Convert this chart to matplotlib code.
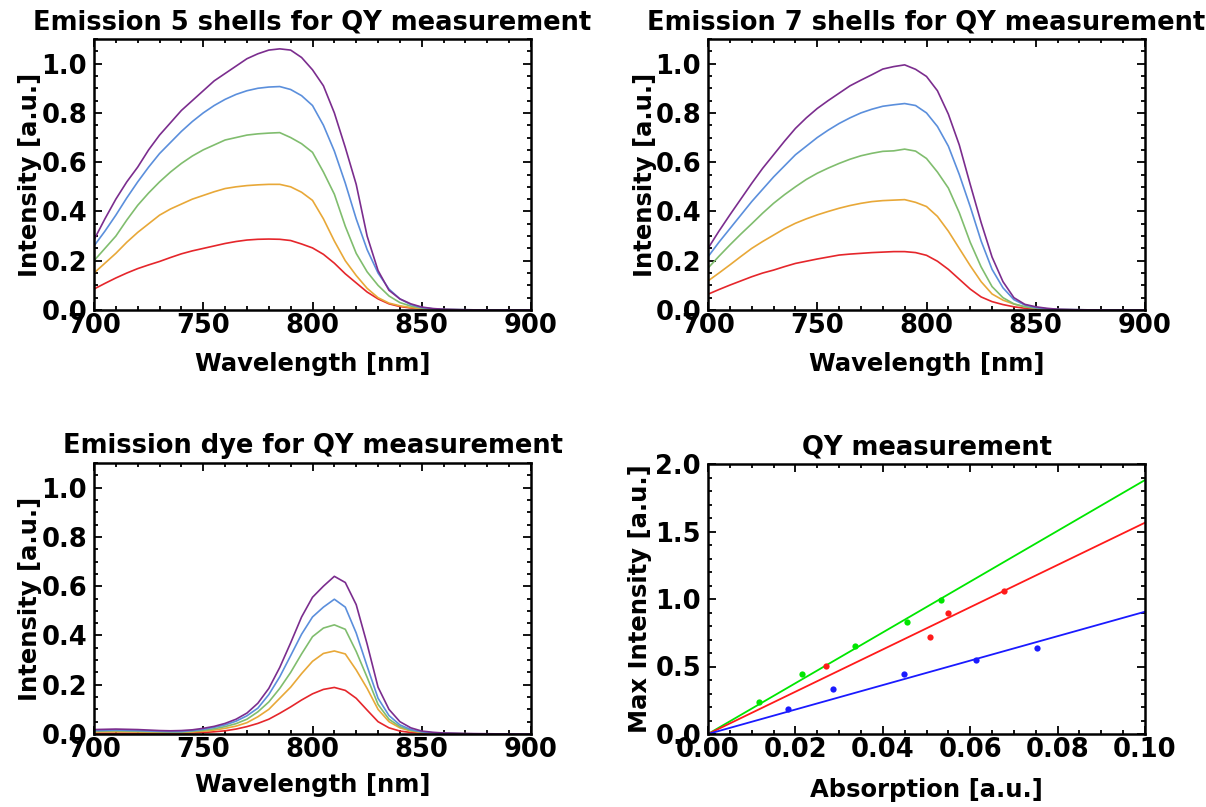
import numpy as np
import matplotlib
matplotlib.use("Agg")
import matplotlib.pyplot as plt
from matplotlib.ticker import MultipleLocator, FormatStrFormatter

plt.rcParams['font.family'] = ['DejaVu Sans']
plt.rcParams['font.weight'] = 'bold'

# Wavelength grid of the spectra (nm)
wavelength = [700, 705, 710, 715, 720, 725, 730, 735, 740, 745, 750, 755, 760,
              765, 770, 775, 780, 785, 790, 795, 800, 805, 810, 815, 820, 825,
              830, 835, 840, 845, 850, 855, 860, 870, 880, 890, 900]

# Emission, 5 shells (lowest to highest concentration)
shell5_c1 = [0.085, 0.108, 0.130, 0.150, 0.168, 0.183, 0.197, 0.213, 0.228, 0.240,
             0.250, 0.260, 0.270, 0.278, 0.284, 0.287, 0.288, 0.287, 0.282, 0.268,
             0.252, 0.226, 0.190, 0.147, 0.110, 0.073, 0.045, 0.025, 0.014, 0.008,
             0.004, 0.002, 0.001, 0.0005, 0.0, 0.0, 0.0]
shell5_c2 = [0.150, 0.190, 0.230, 0.275, 0.315, 0.350, 0.385, 0.410, 0.430, 0.450,
             0.465, 0.480, 0.493, 0.500, 0.505, 0.508, 0.510, 0.510, 0.500, 0.478,
             0.445, 0.370, 0.280, 0.200, 0.140, 0.088, 0.050, 0.028, 0.017, 0.010,
             0.005, 0.003, 0.001, 0.0005, 0.0, 0.0, 0.0]
shell5_c3 = [0.200, 0.250, 0.300, 0.365, 0.425, 0.475, 0.520, 0.560, 0.595, 0.625,
             0.650, 0.670, 0.690, 0.700, 0.710, 0.715, 0.718, 0.720, 0.700, 0.675,
             0.640, 0.560, 0.470, 0.340, 0.230, 0.155, 0.100, 0.057, 0.030, 0.016,
             0.008, 0.004, 0.002, 0.001, 0.0, 0.0, 0.0]
shell5_c4 = [0.260, 0.320, 0.385, 0.455, 0.520, 0.580, 0.635, 0.680, 0.725, 0.765,
             0.800, 0.830, 0.855, 0.875, 0.890, 0.900, 0.905, 0.907, 0.895, 0.870,
             0.830, 0.750, 0.645, 0.515, 0.370, 0.245, 0.150, 0.085, 0.045, 0.022,
             0.010, 0.005, 0.002, 0.001, 0.0, 0.0, 0.0]
shell5_c5 = [0.285, 0.370, 0.450, 0.520, 0.580, 0.650, 0.710, 0.760, 0.810, 0.850,
             0.890, 0.930, 0.960, 0.990, 1.020, 1.040, 1.055, 1.060, 1.055, 1.025,
             0.975, 0.910, 0.800, 0.660, 0.510, 0.300, 0.160, 0.080, 0.045, 0.025,
             0.012, 0.006, 0.003, 0.001, 0.0, 0.0, 0.0]

# Emission, 7 shells
shell7_c1 = [0.064, 0.083, 0.101, 0.118, 0.135, 0.150, 0.162, 0.176, 0.189, 0.198,
             0.207, 0.215, 0.223, 0.227, 0.230, 0.233, 0.235, 0.237, 0.237, 0.233,
             0.222, 0.198, 0.165, 0.125, 0.085, 0.053, 0.034, 0.022, 0.013, 0.007,
             0.004, 0.002, 0.001, 0.0005, 0.0, 0.0, 0.0]
shell7_c2 = [0.118, 0.150, 0.183, 0.217, 0.250, 0.278, 0.304, 0.330, 0.352, 0.370,
             0.386, 0.400, 0.413, 0.424, 0.433, 0.440, 0.444, 0.446, 0.448, 0.437,
             0.420, 0.380, 0.320, 0.250, 0.180, 0.115, 0.065, 0.040, 0.024, 0.013,
             0.007, 0.003, 0.001, 0.0005, 0.0, 0.0, 0.0]
shell7_c3 = [0.170, 0.218, 0.264, 0.308, 0.350, 0.393, 0.433, 0.468, 0.500, 0.530,
             0.555, 0.576, 0.595, 0.612, 0.626, 0.636, 0.644, 0.646, 0.653, 0.645,
             0.615, 0.560, 0.495, 0.395, 0.275, 0.175, 0.095, 0.050, 0.025, 0.013,
             0.007, 0.004, 0.002, 0.001, 0.0, 0.0, 0.0]
shell7_c4 = [0.216, 0.275, 0.330, 0.385, 0.440, 0.490, 0.540, 0.585, 0.630, 0.665,
             0.700, 0.730, 0.757, 0.780, 0.800, 0.815, 0.827, 0.833, 0.838, 0.830,
             0.800, 0.745, 0.665, 0.550, 0.420, 0.280, 0.165, 0.090, 0.042, 0.020,
             0.010, 0.005, 0.002, 0.001, 0.0, 0.0, 0.0]
shell7_c5 = [0.250, 0.320, 0.386, 0.450, 0.514, 0.575, 0.630, 0.685, 0.737, 0.780,
             0.818, 0.850, 0.880, 0.910, 0.933, 0.955, 0.978, 0.988, 0.995, 0.977,
             0.948, 0.890, 0.795, 0.670, 0.510, 0.355, 0.215, 0.115, 0.050, 0.023,
             0.013, 0.007, 0.003, 0.001, 0.0, 0.0, 0.0]

# Emission, reference dye
dye_c1 = [0.003, 0.003, 0.003, 0.003, 0.003, 0.003, 0.003, 0.003, 0.003, 0.004,
          0.006, 0.009, 0.013, 0.020, 0.030, 0.043, 0.060, 0.084, 0.110, 0.138,
          0.163, 0.181, 0.189, 0.177, 0.145, 0.097, 0.050, 0.025, 0.012, 0.006,
          0.003, 0.002, 0.001, 0.0005, 0.0, 0.0, 0.0]
dye_c2 = [0.008, 0.009, 0.009, 0.009, 0.008, 0.007, 0.006, 0.006, 0.006, 0.008,
          0.011, 0.016, 0.023, 0.032, 0.046, 0.070, 0.100, 0.145, 0.190, 0.245,
          0.295, 0.327, 0.337, 0.325, 0.260, 0.185, 0.100, 0.050, 0.025, 0.012,
          0.006, 0.003, 0.002, 0.001, 0.0, 0.0, 0.0]
dye_c3 = [0.011, 0.012, 0.013, 0.012, 0.011, 0.010, 0.009, 0.008, 0.008, 0.011,
          0.015, 0.021, 0.030, 0.042, 0.060, 0.090, 0.130, 0.185, 0.250, 0.325,
          0.395, 0.430, 0.443, 0.425, 0.335, 0.230, 0.120, 0.060, 0.030, 0.015,
          0.008, 0.004, 0.002, 0.001, 0.0, 0.0, 0.0]
dye_c4 = [0.014, 0.015, 0.016, 0.015, 0.014, 0.012, 0.011, 0.010, 0.010, 0.014,
          0.019, 0.027, 0.037, 0.052, 0.074, 0.105, 0.160, 0.232, 0.318, 0.405,
          0.475, 0.515, 0.547, 0.515, 0.410, 0.275, 0.145, 0.075, 0.037, 0.018,
          0.009, 0.005, 0.003, 0.001, 0.0, 0.0, 0.0]
dye_c5 = [0.018, 0.019, 0.020, 0.019, 0.018, 0.016, 0.014, 0.013, 0.014, 0.017,
          0.023, 0.031, 0.043, 0.060, 0.085, 0.125, 0.185, 0.270, 0.370, 0.475,
          0.555, 0.600, 0.640, 0.615, 0.525, 0.365, 0.190, 0.100, 0.050, 0.025,
          0.012, 0.007, 0.004, 0.002, 0.001, 0.0, 0.0]

# QY measurement: absorption vs. maximum emission intensity
abs_7shells = [0.0117, 0.0214, 0.0336, 0.0456, 0.0533]
max_7shells = [0.234, 0.444, 0.651, 0.831, 0.994]
abs_5shells = [0.0271, 0.0509, 0.0550, 0.0677]
max_5shells = [0.503, 0.715, 0.900, 1.058]
abs_dye = [0.0182, 0.0285, 0.0449, 0.0613, 0.0752]
max_dye = [0.185, 0.333, 0.441, 0.545, 0.636]

spec_colors = ['#e5262b', '#e8a838', '#80bd6e', '#5b8fdc', '#7b2d8e']

TITLE_FS = 18.5
LABEL_FS = 17.5
TICK_FS = 18.5

W, H = 1206, 807
fig = plt.figure(figsize=(W / 100, H / 100), dpi=100)


def box(x0, y0, x1, y1):
    return [x0 / W, 1 - y1 / H, (x1 - x0) / W, (y1 - y0) / H]


def frame_style(ax, ylab_x=-0.146, xlab_y=-0.2):
    for s in ax.spines.values():
        s.set_linewidth(1.8)
    ax.tick_params(which='both', direction='in', top=True, right=True,
                   width=1.3, labelsize=TICK_FS, pad=2)
    ax.tick_params(which='major', length=6)
    ax.tick_params(which='minor', length=3)
    ax.tick_params(axis='y', pad=5)
    for lab in ax.get_xticklabels() + ax.get_yticklabels():
        lab.set_fontweight('bold')
    ax.yaxis.set_label_coords(ylab_x, 0.5)
    ax.xaxis.set_label_coords(0.5, xlab_y)


def spectrum_panel(ax, curves, title, ylab_x=-0.146, xlab_y=-0.2):
    for c, col in zip(curves, spec_colors):
        ax.plot(wavelength, c, color=col, lw=1.2)
    ax.set_xlim(700, 900)
    ax.set_ylim(0, 1.1)
    ax.xaxis.set_major_locator(MultipleLocator(50))
    ax.xaxis.set_minor_locator(MultipleLocator(10))
    ax.yaxis.set_major_locator(MultipleLocator(0.2))
    ax.yaxis.set_minor_locator(MultipleLocator(0.05))
    ax.yaxis.set_major_formatter(FormatStrFormatter('%.1f'))
    ax.set_title(title, fontsize=TITLE_FS, fontweight='bold', pad=7)
    ax.set_xlabel('Wavelength [nm]', fontsize=LABEL_FS, fontweight='bold',
                  va='center')
    ax.set_ylabel('Intensity [a.u.]', fontsize=LABEL_FS, fontweight='bold',
                  va='center')
    frame_style(ax, ylab_x, xlab_y)


ax1 = fig.add_axes(box(94, 39, 531, 310))
spectrum_panel(ax1, [shell5_c1, shell5_c2, shell5_c3, shell5_c4, shell5_c5],
               'Emission 5 shells for QY measurement', -0.146, -0.2)

ax2 = fig.add_axes(box(708, 39, 1145, 310))
spectrum_panel(ax2, [shell7_c1, shell7_c2, shell7_c3, shell7_c4, shell7_c5],
               'Emission 7 shells for QY measurement', -0.144, -0.2)

ax3 = fig.add_axes(box(94, 463, 531, 734))
spectrum_panel(ax3, [dye_c1, dye_c2, dye_c3, dye_c4, dye_c5],
               'Emission dye for QY measurement', -0.146, -0.19)

# QY panel: data and least-squares lines through the origin
ax4 = fig.add_axes(box(708, 464, 1145, 734))
xfit = np.array([0.0, 0.1])
for xs, ys, col in [(abs_7shells, max_7shells, '#00e600'),
                    (abs_5shells, max_5shells, '#ff1a1a'),
                    (abs_dye, max_dye, '#1a1aff')]:
    xs = np.asarray(xs)
    ys = np.asarray(ys)
    slope = np.sum(xs * ys) / np.sum(xs * xs)
    ax4.plot(xfit, slope * xfit, color=col, lw=1.3)
    ax4.plot(xs, ys, 'o', color=col, ms=4.5, mec='none')
ax4.set_xlim(0, 0.1)
ax4.set_ylim(0, 2.0)
ax4.xaxis.set_major_locator(MultipleLocator(0.02))
ax4.xaxis.set_minor_locator(MultipleLocator(0.005))
ax4.yaxis.set_major_locator(MultipleLocator(0.5))
ax4.yaxis.set_minor_locator(MultipleLocator(0.1))
ax4.xaxis.set_major_formatter(FormatStrFormatter('%.2f'))
ax4.yaxis.set_major_formatter(FormatStrFormatter('%.1f'))
ax4.set_title('QY measurement', fontsize=TITLE_FS, fontweight='bold', pad=7)
ax4.set_xlabel('Absorption [a.u.]', fontsize=LABEL_FS, fontweight='bold',
               va='center')
ax4.set_ylabel('Max Intensity [a.u.]', fontsize=LABEL_FS, fontweight='bold',
               va='center')
frame_style(ax4, -0.156, -0.207)

fig.savefig('out.png', dpi=100)
